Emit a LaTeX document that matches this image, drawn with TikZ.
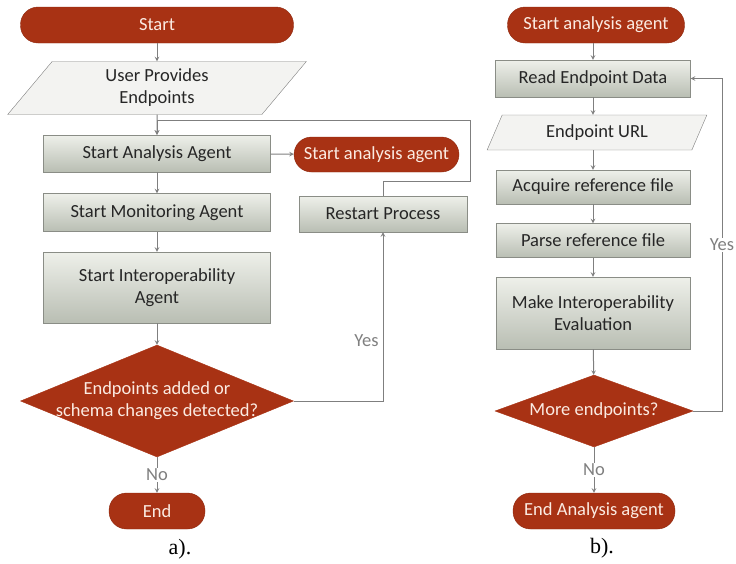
\documentclass[tikz,border=0pt]{standalone}
\usepackage{fontspec}
\setmainfont{Carlito}
\newfontfamily\capfont{Liberation Serif}
\usetikzlibrary{shapes.geometric}
\definecolor{rust}{HTML}{A83214}
\definecolor{paletext}{HTML}{FBEBE2}
\definecolor{boxline}{HTML}{8A8D86}
\definecolor{boxtop}{HTML}{EEF0EA}
\definecolor{boxbottom}{HTML}{B9BEB3}
\definecolor{iofill}{HTML}{F3F3F1}
\definecolor{wire}{HTML}{7F7F7F}
\tikzset{
	flowfont/.style={font=\fontsize{18.5}{22}\selectfont},
	terminal/.style={flowfont, draw=rust!85!black, fill=rust, text=paletext, rounded corners=17.5pt, minimum height=36pt, inner sep=0pt},
	process/.style={flowfont, draw=boxline, top color=boxtop, bottom color=boxbottom, text=black!85, minimum height=37pt, inner sep=0pt, align=center},
	io/.style={flowfont, trapezium, trapezium stretches=true, draw=wire, fill=iofill, text=black!85, inner sep=0pt, align=center},
	decision/.style={diamond, draw=rust, fill=rust, inner sep=0pt},
	dlabel/.style={flowfont, text=paletext, align=center},
	arr/.style={->, draw=wire, line width=1pt},
	branch/.style={flowfont, text=wire, fill=white, inner sep=1pt},
	caption/.style={font=\capfont\fontsize{22}{24}\selectfont}
}
\begin{document}
\begin{tikzpicture}[x=1pt, y=-1pt, >=stealth]
	\useasboundingbox (0,0) rectangle (736,563);
	\node (start) at (157,25) [terminal, minimum width=273pt] {Start};
	\node (upe) at (157,88) [io, minimum width=299pt, minimum height=53pt, trapezium left angle=60, trapezium right angle=120] {User Provides\\Endpoints};
	\node (saa) at (157,153.5) [process, minimum width=227pt] {Start Analysis Agent};
	\node (sap) at (376.5,154.5) [terminal, minimum width=165pt, minimum height=35pt] {Start analysis agent};
	\node (sma) at (157,212.5) [process, minimum width=227pt, minimum height=38pt] {Start Monitoring Agent};
	\node (rst) at (383,214) [process, minimum width=168pt, minimum height=36pt] {Restart Process};
	\node (sia) at (157,287.5) [process, minimum width=227pt, minimum height=71pt] {Start Interoperability\\Agent};
	\node (chk) at (157,401) [decision, minimum width=273pt, minimum height=112pt, label={[dlabel]center:Endpoints added or\\schema changes detected?}] {};
	\node (fin) at (157,511) [terminal, minimum width=96pt] {End};
	\coordinate (back) at (470,120);
	\node (capa) at (180,549) [caption] {a).};

	\node (bstart) at (596,25) [terminal, minimum width=177pt] {Start analysis agent};
	\node (red) at (593,78.5) [process, minimum width=195pt] {Read Endpoint Data};
	\node (url) at (597,132.5) [io, minimum width=220pt, minimum height=35pt, trapezium left angle=63, trapezium right angle=117] {Endpoint URL};
	\node (acq) at (593,187) [process, minimum width=194pt, minimum height=34pt] {Acquire reference file};
	\node (prs) at (593,240.5) [process, minimum width=194pt, minimum height=34pt] {Parse reference file};
	\node (mie) at (593,313) [process, minimum width=194pt, minimum height=72pt] {Make Interoperability\\Evaluation};
	\node (more) at (594,411) [decision, minimum width=198pt, minimum height=72pt, label={[dlabel]center:More endpoints?}] {};
	\node (bend) at (594,511) [terminal, minimum width=162pt] {End Analysis agent};
	\coordinate (bback) at (722,0);
	\node (capb) at (602,548) [caption] {b).};

	\draw[arr] (start) -- (upe);
	\draw[arr] (upe) -- (saa);
	\draw[arr] (saa) -- (sap);
	\draw[arr] (saa) -- (sma);
	\draw[arr] (sma) -- (sia);
	\draw[arr] (sia) -- (chk);
	\draw[arr] (chk) -- node[branch] {No} (fin);
	\draw[arr] (chk.east) -| node[branch, pos=0.68, left=3pt, fill=none] {Yes} (rst);
	\draw[arr] (rst.north) -- ++(0,-14) -| (back) -- (saa.north |- back) -- (saa.north);

	\draw[arr] (bstart.south -| red) -- (red);
	\draw[arr] (red.south) -- (red.south |- url.north);
	\draw[arr] (acq.north |- url.south) -- (acq);
	\draw[arr] (acq) -- (prs);
	\draw[arr] (prs) -- (mie);
	\draw[arr] (mie) -- (more);
	\draw[arr] (more) -- node[branch] {No} (bend);
	\draw[arr] (more.east) -| node[branch, pos=0.75] {Yes} (bback |- red.east) -- (red.east);
\end{tikzpicture}
\end{document}
